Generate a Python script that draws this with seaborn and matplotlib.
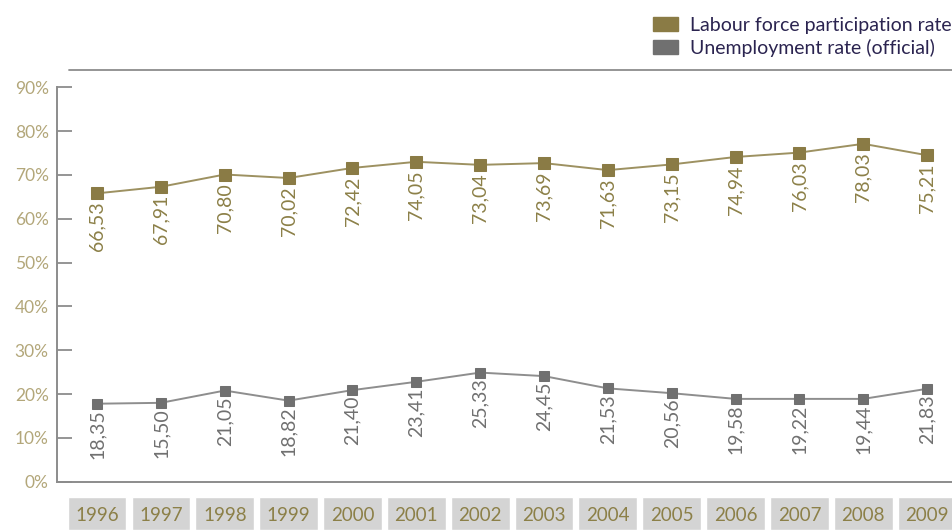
"""Labour force participation and unemployment rates, 1996-2009."""

import matplotlib
matplotlib.use("Agg")
import matplotlib.pyplot as plt
import pandas as pd
import seaborn as sns
from matplotlib.lines import Line2D
from matplotlib.patches import Patch

years = list(range(1996, 2010))
# plotted positions (%)
participation = [65.8, 67.3, 70.1, 69.3, 71.6, 73.0, 72.3, 72.7, 71.1, 72.4, 74.1, 75.1, 77.1, 74.5]
unemployment = [17.8, 18.0, 20.8, 18.5, 20.9, 22.8, 24.9, 24.1, 21.3, 20.2, 18.9, 18.9, 18.9, 21.2]
# printed labels
participation_labels = ["66,53", "67,91", "70,80", "70,02", "72,42", "74,05", "73,04",
                        "73,69", "71,63", "73,15", "74,94", "76,03", "78,03", "75,21"]
unemployment_labels = ["18,35", "15,50", "21,05", "18,82", "21,40", "23,41", "25,33",
                       "24,45", "21,53", "20,56", "19,58", "19,22", "19,44", "21,83"]
series_names = ["Labour force participation rate", "Unemployment rate (official)"]
y_ticks = [0, 10, 20, 30, 40, 50, 60, 70, 80, 90]

OLIVE = "#8a7b45"
OLIVE_LINE = "#9d9161"
OLIVE_TEXT = "#8c8048"
TICK_TEXT = "#b3a77a"
GREY = "#707070"
GREY_LINE = "#8e8e8e"
AXIS_GREY = "#8c8c8c"
BOX_GREY = "#d4d4d4"
LEGEND_TEXT = "#2b2450"

sns.set_style("white")
plt.rcParams["font.family"] = ["Lato", "DejaVu Sans"]

fig = plt.figure(figsize=(9.52, 5.30), dpi=100)
ax = fig.add_axes([0.0599, 0.0911, 0.9401, 0.7442])

df = pd.DataFrame({"year": years, "part": participation, "unemp": unemployment})

sns.lineplot(data=df, x="year", y="part", ax=ax, color=OLIVE_LINE, linewidth=1.4,
             marker="s", markersize=8, markerfacecolor=OLIVE, markeredgecolor=OLIVE)
sns.lineplot(data=df, x="year", y="unemp", ax=ax, color=GREY_LINE, linewidth=1.4,
             marker="s", markersize=7, markerfacecolor=GREY, markeredgecolor=GREY)

for x, y, lab in zip(years, participation, participation_labels):
    ax.annotate(lab, (x, y), xytext=(0, -6), textcoords="offset points", rotation=90,
                ha="center", va="top", fontsize=14, color=OLIVE_TEXT)
for x, y, lab in zip(years, unemployment, unemployment_labels):
    ax.annotate(lab, (x, y), xytext=(0, -4), textcoords="offset points", rotation=90,
                ha="center", va="top", fontsize=14, color=GREY)

ax.set_xlim(years[0] - 0.627, years[-1] + 0.39)
ax.set_ylim(0, 90)
ax.set_yticks(y_ticks)
ax.set_yticklabels([f"{t}%" for t in y_ticks], color=TICK_TEXT, fontsize=12.5)
ax.set_xticks([])
ax.set_xlabel("")
ax.set_ylabel("")
ax.tick_params(axis="y", direction="in", length=11, width=1.3, color=AXIS_GREY, pad=6, left=True)
for side in ["top", "right"]:
    ax.spines[side].set_visible(False)
for side in ["left", "bottom"]:
    ax.spines[side].set_color(AXIS_GREY)
    ax.spines[side].set_linewidth(1.4)

# top rule
fig.add_artist(Line2D([69 / 952, 1.0], [1 - 70 / 530] * 2, color=AXIS_GREY, linewidth=1.3))

# year boxes
box_ax = fig.add_axes([0.0599, 0.0, 0.9401, 33 / 530])
box_ax.bar(years, [1] * len(years), width=0.92, color=BOX_GREY, bottom=0)
for x in years:
    box_ax.text(x, 0.45, str(x), ha="center", va="center", fontsize=13.5, color=OLIVE_TEXT)
box_ax.set_xlim(ax.get_xlim())
box_ax.set_ylim(0, 1)
box_ax.axis("off")

handles = [Patch(facecolor=OLIVE, edgecolor=OLIVE), Patch(facecolor=GREY, edgecolor=GREY)]
fig.legend(handles, series_names, loc="upper right", bbox_to_anchor=(1.012, 0.99),
           frameon=False, fontsize=14, labelcolor=LEGEND_TEXT, handlelength=1.3,
           handleheight=0.7, handletextpad=0.6, labelspacing=0.25, borderaxespad=0.2)

fig.savefig("out.png", dpi=100)
